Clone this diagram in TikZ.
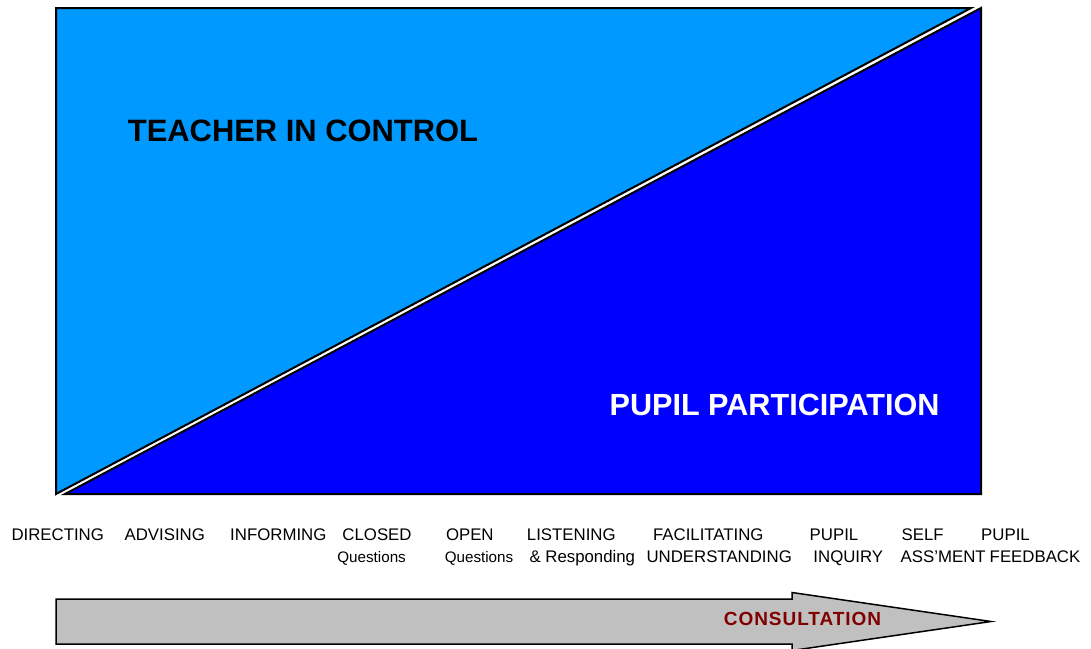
\documentclass[tikz,border=0pt]{standalone}
\usepackage{fontspec}
\setmainfont{Liberation Sans}
\definecolor{lightblue}{RGB}{0,153,255}
\definecolor{darkblue}{RGB}{0,0,255}
\definecolor{arrowgray}{RGB}{192,192,192}
\definecolor{consred}{RGB}{128,0,0}
\tikzset{
  tri/.style={draw=black, line width=2pt, line join=miter},
  bigtext/.style={inner sep=0pt, anchor=base, font=\fontsize{30.9}{36}\selectfont\bfseries},
  lbl/.style={inner sep=0pt, anchor=base, font=\fontsize{16.8}{20}\selectfont},
  sublbl/.style={inner sep=0pt, anchor=base, font=\fontsize{15.2}{18}\selectfont},
}
\begin{document}
\begin{tikzpicture}[x=1pt,y=-1pt]
\useasboundingbox (0,0) rectangle (1091,648);
\clip (0,0) rectangle (1091,648);
\fill[white] (0,0) rectangle (1091,648);
% triangles
\filldraw[tri, fill=lightblue] (56,8) -- (971,8) -- (56,494) -- cycle;
\filldraw[tri, fill=darkblue] (65,494) -- (981,494) -- (981,8) -- cycle;
\node[bigtext, text=black] (teacher) at (303,141.7) {TEACHER IN CONTROL};
\node[bigtext, text=white, font=\fontsize{30.6}{36}\selectfont\bfseries] (pupil) at (774.5,415) {PUPIL PARTICIPATION};
% labels top line
\node[lbl] (l1) at (57.7,540.4) {DIRECTING};
\node[lbl] (l2) at (164.8,540.4) {ADVISING};
\node[lbl] (l3) at (278.3,540.4) {INFORMING};
\node[lbl] (l4) at (377,540.4) {CLOSED};
\node[lbl] (l5) at (469.8,540.4) {OPEN};
\node[lbl] (l6) at (571.3,540.4) {LISTENING};
\node[lbl] (l7) at (708.3,540.4) {FACILITATING};
\node[lbl] (l8) at (834,540.4) {PUPIL};
\node[lbl] (l9) at (922.7,540.4) {SELF};
\node[lbl] (l10) at (1005.5,540.4) {PUPIL};
% second line
\node[sublbl] (s4) at (371.6,562.5) {Questions};
\node[sublbl] (s5) at (479,562.5) {Questions};
\node[lbl] (s6) at (582.3,562.5) {\& Responding};
\node[lbl] (s7) at (719.2,562.5) {UNDERSTANDING};
\node[lbl] (s8) at (848.3,562.5) {INQUIRY};
\node[lbl] (s9) at (943.2,562.5) {ASS’MENT};
\node[lbl] (s10) at (1035,562.5) {FEEDBACK};
% arrow
\filldraw[fill=arrowgray, draw=black, line width=1.5pt, line join=miter]
  (56,599) -- (792,599) -- (792,592.5) -- (991,621.5) -- (792,650.5) -- (792,644) -- (56,644) -- cycle;
\node[inner sep=0pt, anchor=base, text=consred, font=\fontsize{19}{22}\selectfont\bfseries\addfontfeature{LetterSpace=5}] (cons) at (802.5,625) {CONSULTATION};
\end{tikzpicture}
\end{document}
